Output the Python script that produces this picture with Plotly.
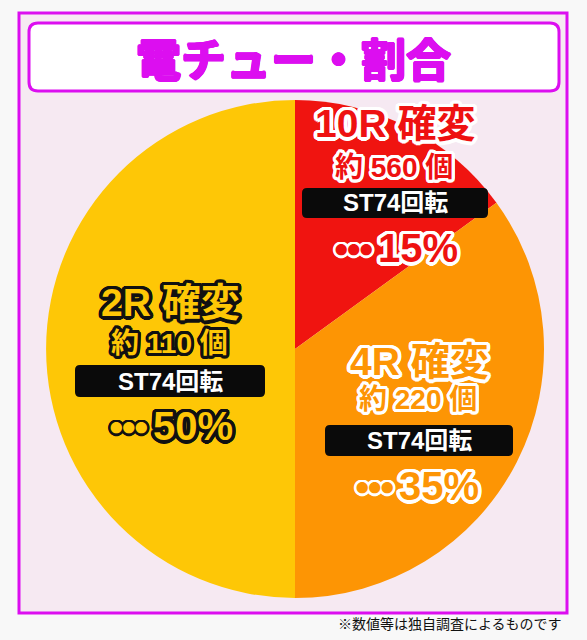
import math
import plotly.graph_objects as go

W, H = 587, 640

# ---- data ----
labels = ["10R 確変", "4R 確変", "2R 確変"]
counts = ["約 560 個", "約 220 個", "約 110 個"]
st_text = ["ST74回転", "ST74回転", "ST74回転"]
shares = [15, 35, 50]
colors = ["#f01410", "#fd9504", "#fec706"]

title_text = "電チュー・割合"
note_text = "※数値等は独自調査によるものです"

MAG = "#dc0ef0"
FONT = "Noto Sans CJK JP"
LFONT = "Liberation Sans, Noto Sans CJK JP"


def px(x):
    return x / W


def py(y):
    return 1 - y / H


def outline(color, r, n=24):
    parts = []
    for i in range(n):
        a = 2 * math.pi * i / n
        parts.append(f"{r*math.cos(a):.2f}px {r*math.sin(a):.2f}px 0 {color}")
    return ", ".join(parts)


def rrect(x0, y0, x1, y1, r):
    X = lambda v: px(v)
    Y = lambda v: py(v)
    return (f"M {X(x0+r)},{Y(y0)} L {X(x1-r)},{Y(y0)} Q {X(x1)},{Y(y0)} {X(x1)},{Y(y0+r)} "
            f"L {X(x1)},{Y(y1-r)} Q {X(x1)},{Y(y1)} {X(x1-r)},{Y(y1)} "
            f"L {X(x0+r)},{Y(y1)} Q {X(x0)},{Y(y1)} {X(x0)},{Y(y1-r)} "
            f"L {X(x0)},{Y(y0+r)} Q {X(x0)},{Y(y0)} {X(x0+r)},{Y(y0)} Z")


fig = go.Figure()

# pie: center (295, 349), radius 249
cx, cy, R = 295, 349, 249
fig.add_trace(go.Pie(
    values=shares,
    labels=labels,
    marker=dict(colors=colors, line=dict(width=0)),
    sort=False,
    direction="clockwise",
    rotation=0,
    textinfo="none",
    hoverinfo="skip",
    showlegend=False,
    domain=dict(x=[px(cx - R), px(cx + R)], y=[py(cy + R), py(cy - R)]),
))

shapes = [
    dict(type="rect", xref="paper", yref="paper", x0=px(19), x1=px(567), y0=py(13), y1=py(613),
         fillcolor="#f6e9f2", line=dict(color=MAG, width=3), layer="below"),
    dict(type="path", xref="paper", yref="paper", path=rrect(29, 23, 559, 91, 9),
         fillcolor="white", line=dict(color=MAG, width=3), layer="below"),
]

annotations = [
    dict(text=f"<b>{title_text}</b>", x=px(294), y=py(57), xref="paper", yref="paper",
         showarrow=False, font=dict(family=FONT, size=45, weight=900, color=MAG,
                                    shadow=outline(MAG, 0.9, 12)),
         xanchor="center", yanchor="middle"),
    dict(text=note_text, x=px(564), y=py(623), xref="paper", yref="paper",
         showarrow=False, font=dict(family=FONT, size=14, color="#111111"), xanchor="right", yanchor="middle"),
]

blocks = [
    dict(cx=395, ty=124, cy=168, box=(302, 188, 488, 218), split=376, py_=248, fill="#ee1111", oc="white"),
    dict(cx=419, ty=361, cy=399, box=(325, 425, 513, 456), split=397, py_=486, fill="#fd9504", oc="white"),
    dict(cx=170, ty=302, cy=343, box=(75, 365, 265, 397), split=151, py_=426, fill="#fec706", oc="#111111"),
]

for i, b in enumerate(blocks):
    sh = outline(b["oc"], 3.5)
    annotations.append(dict(text=f"<b>{labels[i]}</b>", x=px(b["cx"]), y=py(b["ty"]), xref="paper", yref="paper",
                            showarrow=False, xanchor="center", yanchor="middle",
                            font=dict(family=LFONT, size=39, color=b["fill"], shadow=sh)))
    annotations.append(dict(text=f"<b>{counts[i]}</b>", x=px(b["cx"] - 1), y=py(b["cy"]), xref="paper", yref="paper",
                            showarrow=False, xanchor="center", yanchor="middle",
                            font=dict(family=LFONT, size=28, color=b["fill"], shadow=outline(b["oc"], 3))))
    x0, y0, x1, y1 = b["box"]
    shapes.append(dict(type="path", xref="paper", yref="paper", path=rrect(x0, y0, x1, y1, 5),
                       fillcolor="#0a0a0a", line=dict(width=0), layer="above"))
    annotations.append(dict(text=f"<b>{st_text[i]}</b>", x=px((x0 + x1) / 2), y=py((y0 + y1) / 2), xref="paper", yref="paper",
                            showarrow=False, xanchor="center", yanchor="middle",
                            font=dict(family=LFONT, size=24, color="white")))
    annotations.append(dict(text="●●●", x=px(b["split"] - 1), y=py(b["py_"] + 1), xref="paper", yref="paper",
                            showarrow=False, xanchor="right", yanchor="middle",
                            font=dict(family=FONT, size=12.5, color=b["fill"], shadow=outline(b["oc"], 2.5, 16))))
    annotations.append(dict(text=f"<b>{shares[i]}%</b>", x=px(b["split"]), y=py(b["py_"]),
                            xref="paper", yref="paper",
                            showarrow=False, xanchor="left", yanchor="middle",
                            font=dict(family=LFONT, size=40, color=b["fill"], shadow=sh)))

fig.update_layout(
    width=W, height=H,
    margin=dict(l=0, r=0, t=0, b=0),
    paper_bgcolor="#f8f8f8",
    plot_bgcolor="#f8f8f8",
    shapes=shapes,
    annotations=annotations,
    showlegend=False,
)

fig.write_html("out.html", config={"displayModeBar": False, "staticPlot": True},
               post_script="document.body.style.margin='0';document.body.style.overflow='hidden';")
